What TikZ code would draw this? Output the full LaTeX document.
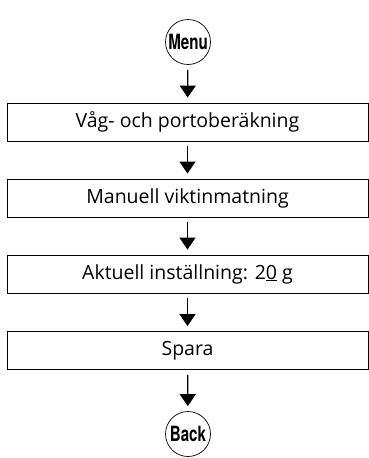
\documentclass[tikz,border=0pt]{standalone}
\usepackage{fontspec}
\usepackage{graphicx}
\setmainfont{Open Sans}
\newfontfamily\keyfont{TeX Gyre Heros}
\usetikzlibrary{arrows.meta}
\tikzstyle{menubox} = [draw=black, line width=0.9pt, minimum width=361pt, minimum height=38pt, inner sep=0pt, font=\fontsize{19.5}{22}\selectfont]
\tikzstyle{key}     = [circle, draw=black, line width=0.7pt, minimum size=45pt, inner sep=0pt, font=\keyfont\bfseries\fontsize{21}{24}\selectfont]
\tikzstyle{arrow}   = [line width=1.3pt, -{Triangle[width=16pt,length=12pt]}, shorten <=5pt, shorten >=5pt]

\begin{document}
\begin{tikzpicture}[x=1pt,y=-1pt]
		\useasboundingbox (0,0) rectangle (368,458);

		\node[key] (menu) at (188,42) {\scalebox{0.72}[1]{Menu}};
		\node[menubox] (vag) at (187.5,122) {Våg- och portoberäkning};
		\node[menubox] (manuell) at (187.5,198) {Manuell viktinmatning};
		\node[menubox] (aktuell) at (187.5,274) {Aktuell inställning: 2\underline{0} g};
		\node[menubox] (spara) at (187.5,350.5) {Spara};
		\node[key] (back) at (188,434) {\scalebox{0.72}[1]{Back}};

		\draw[arrow] (menu) -- (vag);
		\draw[arrow] (vag) -- (manuell);
		\draw[arrow] (manuell) -- (aktuell);
		\draw[arrow] (aktuell) -- (spara);
		\draw[arrow] (spara) -- (back);
	\end{tikzpicture}
\end{document}
